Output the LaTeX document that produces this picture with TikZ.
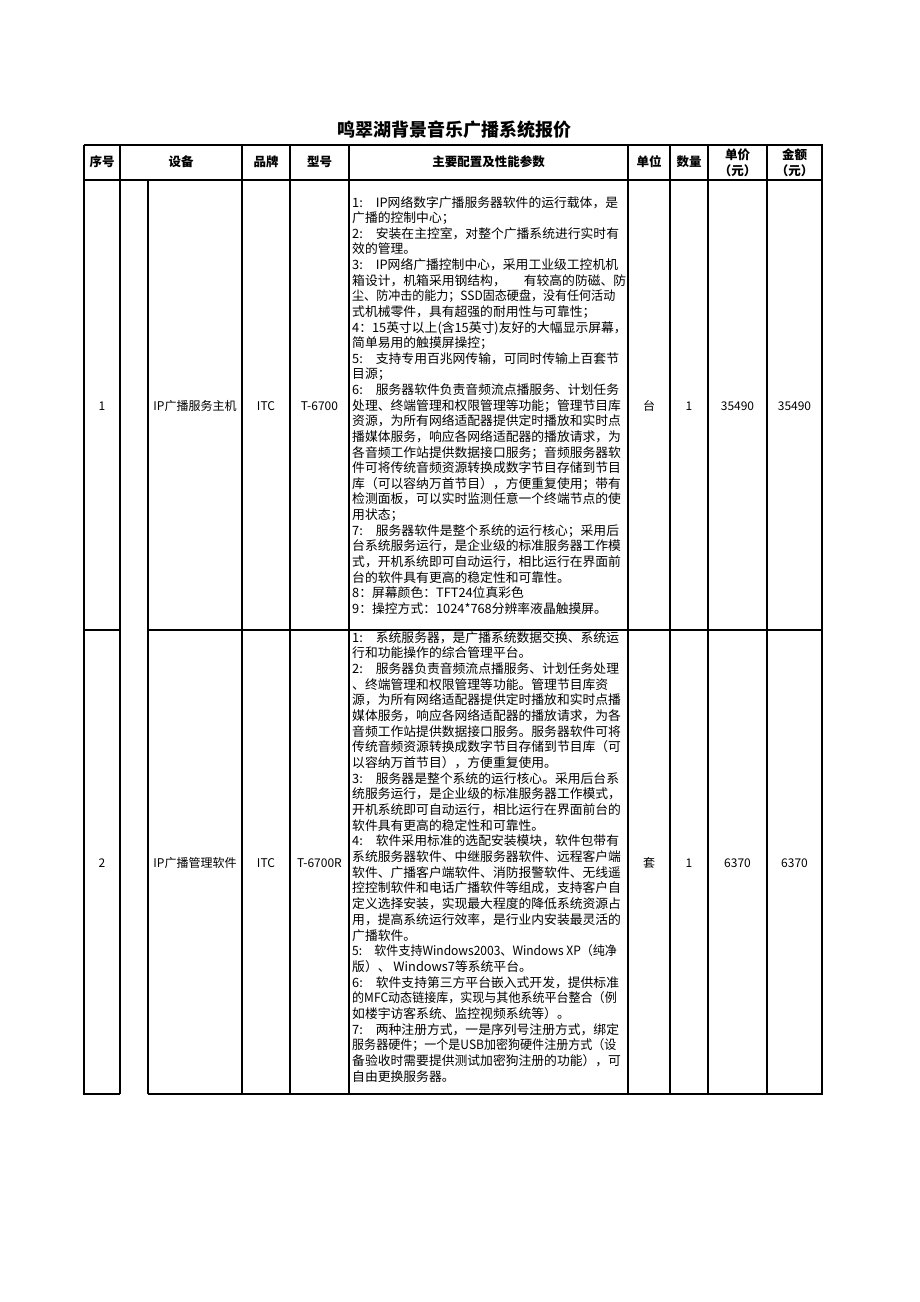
\documentclass[tikz,border=0pt]{standalone}
\usepackage{fontspec}
\usepackage{graphicx}
\setmainfont{Noto Sans CJK SC}
\newcommand\gp{\hspace{13pt}}
\newcommand\sq[1]{\scalebox{0.94}[1]{#1}}
\newcommand\tls{\lineskiplimit-50pt\relax}
\begin{document}
\begin{tikzpicture}[x=1pt,y=-1pt,
  grid/.style={line width=1.2pt, black},
  hd/.style={font={\fontsize{12.5}{16}\selectfont\bfseries\tls}, inner sep=0, align=center},
  cell/.style={font=\fontsize{12}{14}\selectfont, inner sep=0},
  bodyA/.style={font={\fontsize{12.8}{15.62}\selectfont\tls}, inner sep=0, align=left, anchor=north west},
  bodyB/.style={font={\fontsize{12.8}{15.68}\selectfont\tls}, inner sep=0, align=left, anchor=north west}]
\useasboundingbox (0,0) rectangle (920,1302);
\fill[white] (0,0) rectangle (920,1302);
% title
\node[font=\fontsize{18}{20}\selectfont\bfseries, inner sep=0] (title) at (454,130) {鸣翠湖背景音乐广播系统报价};
% grid
\draw[grid] (84,145) -- (822,145) -- (822,1094) -- (148,1094);
\draw[grid] (120,1094) -- (84,1094) -- (84,145);
\draw[grid] (84,180) -- (822,180);
\draw[grid] (84,630) -- (120,630);
\draw[grid] (148,630) -- (822,630);
\foreach \x in {120,242,290,349,628,670,708,767} \draw[grid] (\x,145) -- (\x,1094);
\draw[grid] (148,180) -- (148,1094);
% header
\node[hd] (h1) at (102,162) {序号};
\node[hd] (h2) at (181,162) {设备};
\node[hd] (h3) at (266,162) {品牌};
\node[hd] (h4) at (319.5,162) {型号};
\node[hd] (h5) at (488.5,162) {主要配置及性能参数};
\node[hd] (h6) at (649,162) {单位};
\node[hd] (h7) at (689,162) {数量};
\node[hd] (h8) at (737.5,162.5) {单价\\（元）};
\node[hd] (h9) at (794.5,162.5) {金额\\（元）};
% row 1
\node[cell] (a1) at (102,406) {1};
\node[cell] (a2) at (195,406) {IP广播服务主机};
\node[cell] (a3) at (266,406) {ITC};
\node[cell] (a4) at (319.5,406) {T-6700};
\node[cell] (a6) at (649,406) {台};
\node[cell] (a7) at (689,406) {1};
\node[cell] (a8) at (737.5,406) {35490};
\node[cell] (a9) at (794.5,406) {35490};
\node[bodyA] (a5) at (352,196) {%
1:\gp IP网络数字广播服务器软件的运行载体，是\\
广播的控制中心；\\
2:\gp 安装在主控室，对整个广播系统进行实时有\\
效的管理。\\
3:\gp IP网络广播控制中心，采用工业级工控机机\\
箱设计，机箱采用钢结构，\hspace{18pt}有较高的防磁、防\\
\sq{尘、防冲击的能力；SSD固态硬盘，没有任何活动}\\
式机械零件，具有超强的耐用性与可靠性；\\
4：15英寸以上(含15英寸)友好的大幅显示屏幕，\\
简单易用的触摸屏操控；\\
5:\gp 支持专用百兆网传输，可同时传输上百套节\\
目源；\\
6:\gp 服务器软件负责音频流点播服务、计划任务\\
处理、终端管理和权限管理等功能；管理节目库\\
资源，为所有网络适配器提供定时播放和实时点\\
播媒体服务，响应各网络适配器的播放请求，为\\
各音频工作站提供数据接口服务；音频服务器软\\
件可将传统音频资源转换成数字节目存储到节目\\
库（可以容纳万首节目），方便重复使用；带有\\
检测面板，可以实时监测任意一个终端节点的使\\
用状态；\\
7:\gp 服务器软件是整个系统的运行核心；采用后\\
台系统服务运行，是企业级的标准服务器工作模\\
式，开机系统即可自动运行，相比运行在界面前\\
台的软件具有更高的稳定性和可靠性。\\
8：屏幕颜色：TFT24位真彩色\\
9：操控方式：1024*768分辨率液晶触摸屏。};
% row 2
\node[cell] (b1) at (102,863) {2};
\node[cell] (b2) at (195,863) {IP广播管理软件};
\node[cell] (b3) at (266,863) {ITC};
\node[cell] (b4) at (319.5,863) {T-6700R};
\node[cell] (b6) at (649,863) {套};
\node[cell] (b7) at (689,863) {1};
\node[cell] (b8) at (737.5,863) {6370};
\node[cell] (b9) at (794.5,863) {6370};
\node[bodyB] (b5) at (352,631) {%
1:\gp 系统服务器，是广播系统数据交换、系统运\\
行和功能操作的综合管理平台。\\
2:\gp 服务器负责音频流点播服务、计划任务处理\\
、终端管理和权限管理等功能。管理节目库资\\
源，为所有网络适配器提供定时播放和实时点播\\
媒体服务，响应各网络适配器的播放请求，为各\\
音频工作站提供数据接口服务。服务器软件可将\\
传统音频资源转换成数字节目存储到节目库（可\\
以容纳万首节目），方便重复使用。\\
3:\gp 服务器是整个系统的运行核心。采用后台系\\
统服务运行，是企业级的标准服务器工作模式，\\
开机系统即可自动运行，相比运行在界面前台的\\
软件具有更高的稳定性和可靠性。\\
4:\gp 软件采用标准的选配安装模块，软件包带有\\
系统服务器软件、中继服务器软件、远程客户端\\
软件、广播客户端软件、消防报警软件、无线遥\\
控控制软件和电话广播软件等组成，支持客户自\\
定义选择安装，实现最大程度的降低系统资源占\\
用，提高系统运行效率，是行业内安装最灵活的\\
广播软件。\\
\sq{5:\gp 软件支持Windows2003、Windows XP（纯净}\\
版）、 Windows7等系统平台。\\
6:\gp 软件支持第三方平台嵌入式开发，提供标准\\
\sq{的MFC动态链接库，实现与其他系统平台整合（例}\\
如楼宇访客系统、监控视频系统等）。\\
7:\gp 两种注册方式，一是序列号注册方式，绑定\\
\sq{服务器硬件；一个是USB加密狗硬件注册方式（设}\\
备验收时需要提供测试加密狗注册的功能），可\\
自由更换服务器。};
\end{tikzpicture}
\end{document}
